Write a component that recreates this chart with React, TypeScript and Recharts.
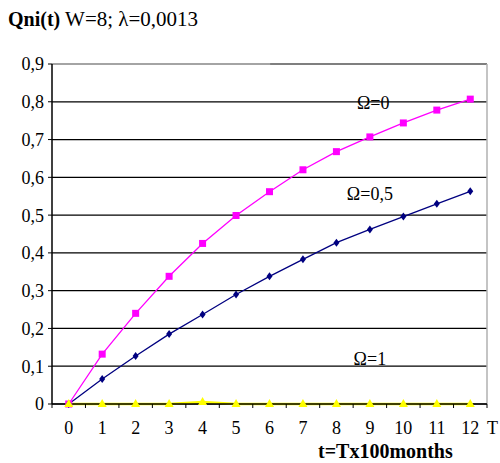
import { LineChart, Line, XAxis, YAxis, CartesianGrid, ReferenceLine, ReferenceDot } from "recharts";

const tValues = [0, 1, 2, 3, 4, 5, 6, 7, 8, 9, 10, 11, 12];
const omega0 = [0, 0.132, 0.24, 0.338, 0.425, 0.499, 0.562, 0.62, 0.668, 0.707, 0.744, 0.778, 0.807];
const omega05 = [0, 0.066, 0.127, 0.185, 0.237, 0.29, 0.338, 0.383, 0.427, 0.462, 0.496, 0.53, 0.563];
const omega1 = [0, 0, 0, 0, 0.005, 0, 0, 0, 0, 0, 0, 0, 0];
const yTicks = [0, 0.1, 0.2, 0.3, 0.4, 0.5, 0.6, 0.7, 0.8, 0.9];

// where the curve names sit, in data units
const seriesLabels = [
  { text: "Ω=0", t: 9.1, v: 0.797 },
  { text: "Ω=0,5", t: 9.0, v: 0.558 },
  { text: "Ω=1", t: 9.0, v: 0.12 },
];

const rows = tValues.map((t, i) => ({
  t,
  o0: omega0[i],
  o05: omega05[i],
  o1: omega1[i],
}));

// labels at integers, small tick marks between categories
const xTicks = [...tValues.map((t) => t - 0.5), ...tValues, tValues[tValues.length - 1] + 0.5].sort(
  (a, b) => a - b
);

const FONT = "'Liberation Serif', 'Times New Roman', serif";

function XTick(props: any) {
  const { x, y, payload } = props;
  const v = payload.value;
  if (Number.isInteger(v)) {
    return (
      <text x={x} y={y + 30} textAnchor="middle" fontSize={18} fontFamily={FONT} fill="#000">
        {v}
      </text>
    );
  }
  return <line x1={x} x2={x} y1={y} y2={y + 4} stroke="#000" strokeWidth={1} />;
}

const squareDot = (p: any) => (
  <rect key={`sq-${p.index}`} x={p.cx - 3.5} y={p.cy - 3.5} width={7} height={7} fill="#FF00FF" />
);

const diamondDot = (p: any) => (
  <polygon
    key={`dm-${p.index}`}
    points={`${p.cx},${p.cy - 4} ${p.cx + 3},${p.cy} ${p.cx},${p.cy + 4} ${p.cx - 3},${p.cy}`}
    fill="#000080"
  />
);

const triangleDot = (p: any) => (
  <polygon
    key={`tr-${p.index}`}
    points={`${p.cx},${p.cy - 5} ${p.cx + 4.5},${p.cy + 3} ${p.cx - 4.5},${p.cy + 3}`}
    fill="#FFFF00"
  />
);

const fmtY = (v: number) => (v === 0 ? "0" : v.toFixed(1).replace(".", ","));

export default function App() {
  return (
    <div
      style={{
        position: "fixed",
        left: 0,
        top: 0,
        width: 500,
        height: 463,
        background: "#fff",
        fontFamily: FONT,
      }}
    >
      <div style={{ position: "absolute", left: 8, top: 9, lineHeight: "20px", whiteSpace: "nowrap" }}>
        <span style={{ fontWeight: "bold", fontSize: 20 }}>Qni(t)</span>
        <span style={{ fontSize: 21 }}> W=8; λ=0,0013</span>
      </div>

      <LineChart width={500} height={463} data={rows} margin={{ top: 64, right: 13, bottom: 29, left: 0 }}>
        <CartesianGrid vertical={false} stroke="#000" strokeWidth={1.2} />
        <ReferenceLine
          segment={[
            { x: -0.5, y: 0.9 },
            { x: 6.02, y: 0.9 },
          ]}
          stroke="#b0b0b0"
          strokeWidth={1.5}
        />
        <ReferenceLine x={12.5} stroke="#b0b0b0" strokeWidth={1.5} />
        <XAxis
          dataKey="t"
          type="number"
          domain={[-0.5, 12.5]}
          ticks={xTicks}
          interval={0}
          tickSize={0}
          tickMargin={0}
          tickLine={false}
          tick={<XTick />}
          axisLine={{ stroke: "#000", strokeWidth: 1.5 }}
          height={30}
        />
        <YAxis
          type="number"
          domain={[0, 0.9]}
          ticks={yTicks}
          interval={0}
          tickFormatter={fmtY}
          tickSize={4}
          tickMargin={4}
          tickLine={{ stroke: "#000" }}
          axisLine={{ stroke: "#000", strokeWidth: 1.5 }}
          tick={{ fontSize: 18, fontFamily: FONT, fill: "#000" }}
          width={52}
        />
        <Line
          dataKey="o0"
          stroke="#FF00FF"
          strokeWidth={1.3}
          dot={squareDot}
          activeDot={false}
          isAnimationActive={false}
        />
        <Line
          dataKey="o05"
          stroke="#000080"
          strokeWidth={1.3}
          dot={diamondDot}
          activeDot={false}
          isAnimationActive={false}
        />
        <Line
          dataKey="o1"
          stroke="#FFFF00"
          strokeWidth={2.5}
          dot={triangleDot}
          activeDot={false}
          isAnimationActive={false}
        />
        {seriesLabels.map((s) => (
          <ReferenceDot
            key={s.text}
            x={s.t}
            y={s.v}
            r={0}
            stroke="none"
            ifOverflow="visible"
            label={{ value: s.text, position: "center", fontSize: 18, fontFamily: FONT, fill: "#000" }}
          />
        ))}
      </LineChart>

      <div style={{ position: "absolute", left: 487, top: 418, fontSize: 18, lineHeight: "20px" }}>T</div>
      <div
        style={{
          position: "absolute",
          left: 318,
          top: 441,
          fontSize: 20,
          fontWeight: "bold",
          lineHeight: "20px",
          whiteSpace: "nowrap",
        }}
      >
        t=Tx100months
      </div>
    </div>
  );
}
